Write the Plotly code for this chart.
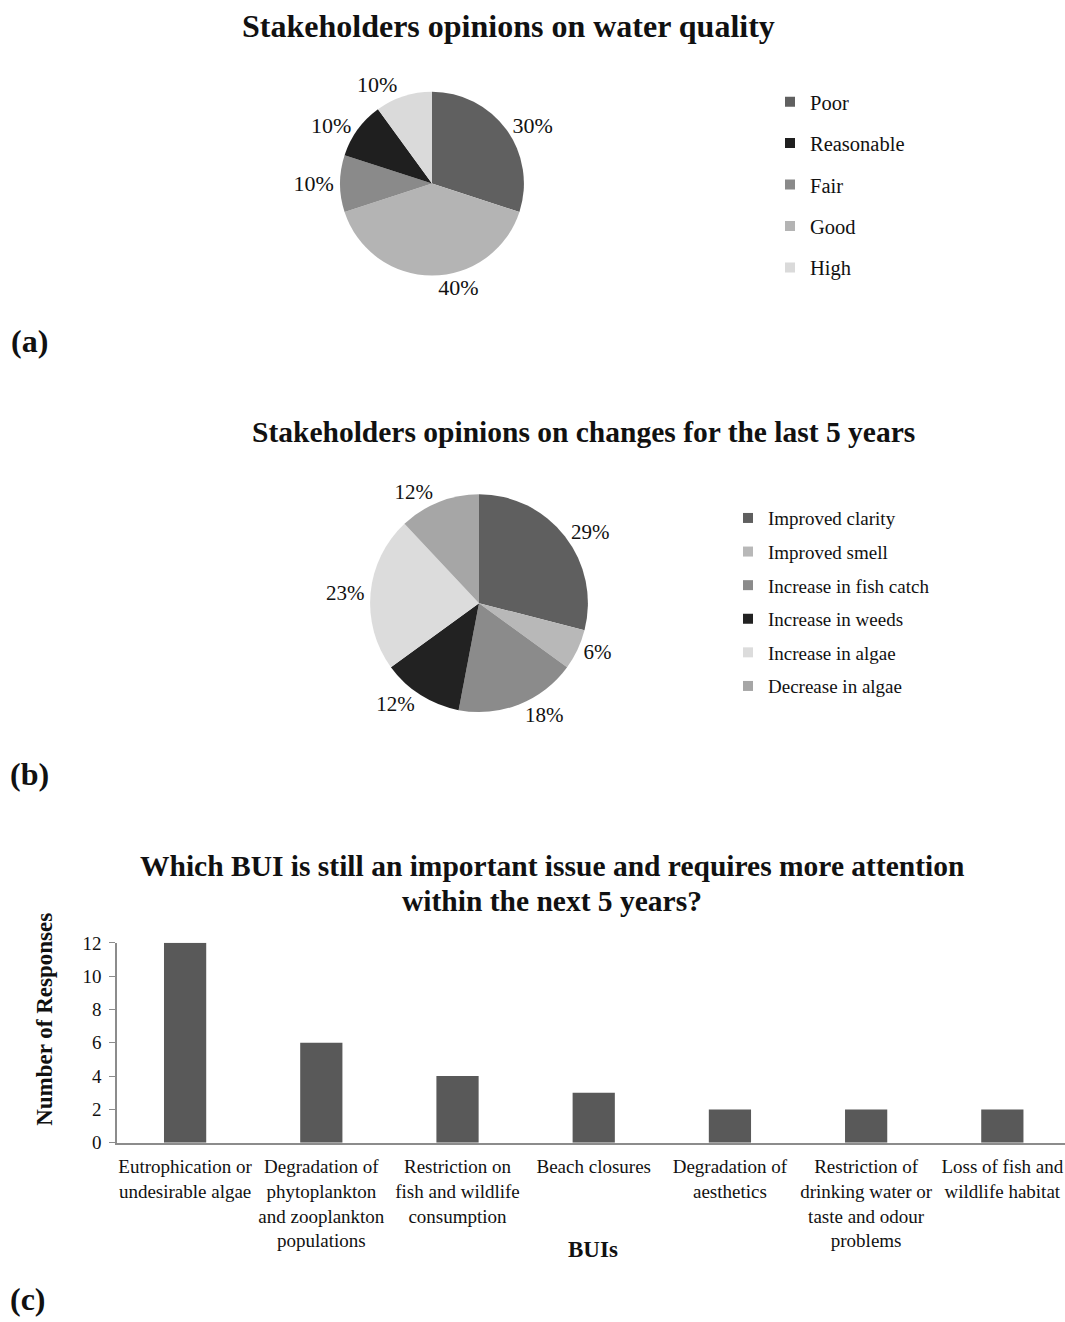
import plotly.graph_objects as go

# ---- (a) opinions on water quality ----
quality_labels = ["Poor", "Reasonable", "Fair", "Good", "High"]
quality_colors = ["#606060", "#1f1f1f", "#8a8a8a", "#b4b4b4", "#dadada"]
# clockwise slice order starting at 12 o'clock
quality_slice_order = ["Poor", "Good", "Fair", "Reasonable", "High"]
quality_values = {"Poor": 30, "Reasonable": 10, "Fair": 10, "Good": 40, "High": 10}

# ---- (b) opinions on changes over the last 5 years ----
change_labels = ["Improved clarity", "Improved smell", "Increase in fish catch",
                 "Increase in weeds", "Increase in algae", "Decrease in algae"]
change_values = [29, 6, 18, 12, 23, 12]
change_colors = ["#5f5f5f", "#b8b8b8", "#8b8b8b", "#222222", "#dcdcdc", "#a6a6a6"]

# ---- (c) BUIs needing more attention ----
bui_labels = [
    "Eutrophication or<br>undesirable algae",
    "Degradation of<br>phytoplankton<br>and zooplankton<br>populations",
    "Restriction on<br>fish and wildlife<br>consumption",
    "Beach closures",
    "Degradation of<br>aesthetics",
    "Restriction of<br>drinking water or<br>taste and odour<br>problems",
    "Loss of fish and<br>wildlife habitat",
]
bui_responses = [12, 6, 4, 3, 2, 2, 2]

W, H = 1065, 1322
FONT = "Liberation Serif"
INK = "#111111"
AXIS_GREY = "#8c8c8c"

# vertical page placement: the page is captured with a little extra height,
# so layout rows are mapped through this linear correction
V_SCALE, V_OFFSET = 0.985, 9.3


def px_x(v):
    return v / W


def px_y(v):
    return 1 - ((v - V_OFFSET) / V_SCALE) / H


fig = go.Figure()

color_of = dict(zip(quality_labels, quality_colors))
fig.add_trace(go.Pie(
    labels=quality_slice_order,
    values=[quality_values[k] for k in quality_slice_order],
    marker=dict(colors=[color_of[k] for k in quality_slice_order], line=dict(width=0)),
    sort=False, direction="clockwise", rotation=0,
    textposition="outside", texttemplate="%{percent:.0%}",
    textfont=dict(family=FONT, size=22, color=INK),
    domain=dict(x=[px_x(340), px_x(524)], y=[px_y(275), px_y(91)]),
    showlegend=False, hoverinfo="label+percent",
))

fig.add_trace(go.Pie(
    labels=change_labels, values=change_values,
    marker=dict(colors=change_colors, line=dict(width=0)),
    sort=False, direction="clockwise", rotation=0,
    textposition="outside", texttemplate="%{percent:.0%}",
    textfont=dict(family=FONT, size=21, color=INK),
    domain=dict(x=[px_x(370), px_x(588)], y=[px_y(712), px_y(494)]),
    showlegend=False, hoverinfo="label+percent",
))

# legend entries (in legend order) for both pies
for i, (lab, col) in enumerate(zip(quality_labels, quality_colors)):
    fig.add_trace(go.Scatter(
        x=[None], y=[None], mode="markers", name=lab,
        marker=dict(symbol="square", size=10, color=col),
        legend="legend", legendgroup=f"q{i}", showlegend=True, hoverinfo="skip",
    ))
for i, (lab, col) in enumerate(zip(change_labels, change_colors)):
    fig.add_trace(go.Scatter(
        x=[None], y=[None], mode="markers", name=lab,
        marker=dict(symbol="square", size=10, color=col),
        legend="legend2", legendgroup=f"c{i}", showlegend=True, hoverinfo="skip",
    ))

fig.add_trace(go.Bar(
    x=bui_labels, y=bui_responses, marker=dict(color="#595959", line=dict(width=0)),
    showlegend=False, hoverinfo="x+y",
))

fig.update_layout(
    width=W, height=H, margin=dict(l=0, r=0, t=0, b=0),
    paper_bgcolor="white", plot_bgcolor="white",
    font=dict(family=FONT, color=INK),
    bargap=0.69,
    legend=dict(x=px_x(770), y=1 - 73 / H, xanchor="left", yanchor="top",
                traceorder="grouped", tracegroupgap=11.8,
                font=dict(family=FONT, size=20.5, color=INK),
                bgcolor="rgba(0,0,0,0)", itemclick=False, itemdoubleclick=False),
    legend2=dict(x=px_x(728), y=1 - 497 / H, xanchor="left", yanchor="top",
                 traceorder="grouped", tracegroupgap=5.9,
                 font=dict(family=FONT, size=19, color=INK),
                 bgcolor="rgba(0,0,0,0)", itemclick=False, itemdoubleclick=False),
    xaxis=dict(type="category", categoryorder="array", categoryarray=bui_labels,
               domain=[px_x(117), 1.0], range=[-0.5, 6.46],
               showline=True, linecolor=AXIS_GREY, linewidth=1.5,
               ticks="", showgrid=False, zeroline=False,
               ticklabelstandoff=6,
               tickfont=dict(family=FONT, size=19, color=INK),
               fixedrange=True),
    yaxis=dict(domain=[px_y(1143), px_y(943)], range=[0, 12], dtick=2,
               showline=True, linecolor=AXIS_GREY, linewidth=1.5,
               ticks="outside", ticklen=6, tickcolor=AXIS_GREY,
               ticklabelstandoff=4,
               showgrid=False, zeroline=False,
               tickfont=dict(family=FONT, size=19, color=INK),
               fixedrange=True),
)

annotations = [
    dict(text="<b>Stakeholders opinions on water quality</b>", x=px_x(508), y=px_y(25),
         font=dict(size=32)),
    dict(text="<b>Stakeholders opinions on changes for the last 5 years</b>",
         x=px_x(583), y=px_y(432), font=dict(size=29.5)),
    dict(text="<b>Which BUI is still an important issue and requires more attention</b>",
         x=px_x(552), y=px_y(866), font=dict(size=29.5)),
    dict(text="<b>within the next 5 years?</b>",
         x=px_x(552), y=px_y(901), font=dict(size=29.5)),
    dict(text="<b>Number of Responses</b>", x=px_x(45), y=px_y(1020),
         textangle=-90, font=dict(size=23)),
    dict(text="<b>BUIs</b>", x=px_x(593), y=px_y(1250), font=dict(size=23)),
    dict(text="<b>(a)</b>", x=px_x(29), y=px_y(341), font=dict(size=32)),
    dict(text="<b>(b)</b>", x=px_x(29), y=px_y(774), font=dict(size=32)),
    dict(text="<b>(c)</b>", x=px_x(28), y=px_y(1299), font=dict(size=32)),
]
for a in annotations:
    a.update(xref="paper", yref="paper", showarrow=False, xanchor="center", yanchor="middle")
    a["font"].update(family=FONT, color=INK)
fig.update_layout(annotations=annotations)

fig.write_html("out.html")
